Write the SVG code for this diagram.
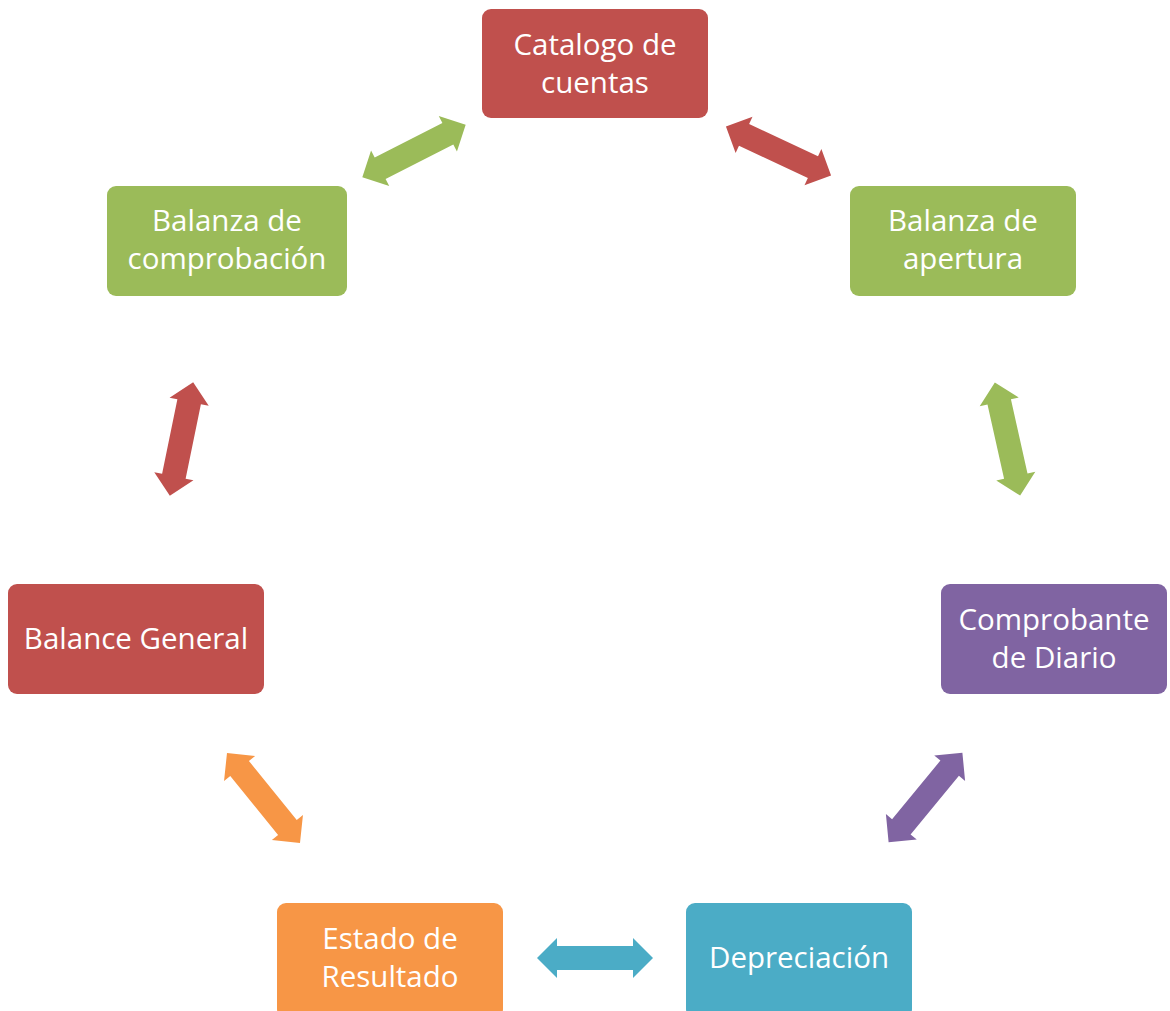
<svg xmlns="http://www.w3.org/2000/svg" width="1170" height="1011" viewBox="0 0 1170 1011">
<defs>
<style>
.lbl{font-family:"Open Sans","Liberation Sans",sans-serif;font-size:29.5px;fill:#ffffff;text-anchor:middle}
.red{fill:#C0504D}.green{fill:#9BBB59}.purple{fill:#8064A2}.orange{fill:#F79646}.teal{fill:#4BACC6}
</style>
<polygon id="dbl" points="-58,0 -38,-20 -38,-12 38,-12 38,-20 58,0 38,20 38,12 -38,12 -38,20"/>
</defs>
<rect width="1170" height="1011" fill="#ffffff"/>
<g id="connectors">
<use href="#dbl" class="green" transform="translate(414,151) rotate(-27)"/>
<use href="#dbl" class="red" transform="translate(778.5,151) rotate(25)"/>
<use href="#dbl" class="red" transform="translate(181.5,439) rotate(101.6)"/>
<use href="#dbl" class="green" transform="translate(1007.5,439) rotate(77.4)"/>
<use href="#dbl" class="orange" transform="translate(263.5,798) rotate(51)"/>
<use href="#dbl" class="purple" transform="translate(925.5,797.5) rotate(129.5)"/>
<use href="#dbl" class="teal" transform="translate(595,958)"/>
</g>
<g id="catalogo">
<rect x="482" y="9" width="226" height="109" rx="9" class="red"/>
<text class="lbl" x="595" y="55">Catalogo de</text>
<text class="lbl" x="595" y="93">cuentas</text>
</g>
<g id="balanza-comprobacion">
<rect x="107" y="186" width="240" height="110" rx="9" class="green"/>
<text class="lbl" x="227" y="231">Balanza de</text>
<text class="lbl" x="227" y="269">comprobación</text>
</g>
<g id="balanza-apertura">
<rect x="850" y="186" width="226" height="110" rx="9" class="green"/>
<text class="lbl" x="963" y="231">Balanza de</text>
<text class="lbl" x="963" y="269">apertura</text>
</g>
<g id="comprobante">
<rect x="941" y="584" width="226" height="110" rx="9" class="purple"/>
<text class="lbl" x="1054" y="630">Comprobante</text>
<text class="lbl" x="1054" y="668">de Diario</text>
</g>
<g id="balance-general">
<rect x="8" y="584" width="256" height="110" rx="9" class="red"/>
<text class="lbl" x="136" y="649">Balance General</text>
</g>
<g id="estado-resultado">
<rect x="277" y="903" width="226" height="115" rx="9" class="orange"/>
<text class="lbl" x="390" y="949">Estado de</text>
<text class="lbl" x="390" y="987">Resultado</text>
</g>
<g id="depreciacion">
<rect x="686" y="903" width="226" height="115" rx="9" class="teal"/>
<text class="lbl" x="799" y="968">Depreciación</text>
</g>
</svg>
